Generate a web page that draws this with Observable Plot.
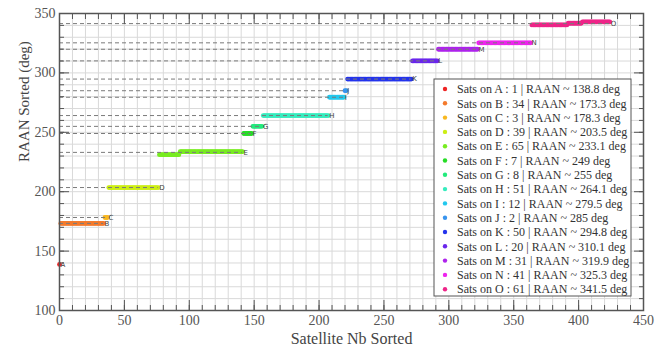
<!DOCTYPE html>
<html><head><meta charset="utf-8">
<script src="https://cdn.jsdelivr.net/npm/d3@7"></script>
<script src="https://cdn.jsdelivr.net/npm/@observablehq/plot@0.6"></script>
<style>body{margin:0;background:#fff}</style>
</head><body><div id="chart"></div>
<script>
// Planes (clusters) of the constellation
const letters = ["A","B","C","D","E","F","G","H","I","J","K","L","M","N","O"];
const counts  = [1, 34, 3, 39, 65, 7, 8, 51, 12, 2, 50, 20, 31, 41, 61];
const raanMean = [138.8, 173.3, 178.3, 203.5, 233.1, 249, 255, 264.1, 279.5, 285, 294.8, 310.1, 319.9, 325.3, 341.5];
const colors = ["#ee2424","#f47a2c","#f8b820","#ccee14","#78ec20","#26dc26","#22ea7c","#36ecbe",
                "#22c8ee","#3894ee","#2434ec","#6a26ec","#ae24ec","#ee24ee","#ee2488"];
// Runs of sorted per-satellite RAAN: [number of sats, RAAN]
const runsE = [[16, 231.2], [49, 233.7]];
const runsO = [[28, 340.4], [11, 341.8], [22, 342.9]];
const xMajor = [0, 50, 100, 150, 200, 250, 300, 350, 400, 450];
const yMajor = [100, 150, 200, 250, 300, 350];
const xMinor = d3.range(0, 451, 10);
const yMinor = d3.range(100, 351, 10);

const runsByPlane = {E: runsE, O: runsO};
const sats = [];
const planes = [];
let idx = 0;
letters.forEach((L, k) => {
  const runs = runsByPlane[L] || [[counts[k], raanMean[k]]];
  const first = idx;
  runs.forEach(([n, v]) => { for (let j = 0; j < n; j++) sats.push({i: idx++, v, color: colors[k]}); });
  planes.push({letter: L, first, last: idx - 1, raan: raanMean[k], color: colors[k], count: counts[k]});
});

const font = "'Liberation Serif', serif";
const axisCol = "#555";
const noText = () => "";
const plot = Plot.plot({
  width: 666, height: 354,
  marginLeft: 59, marginRight: 23, marginTop: 13, marginBottom: 44,
  x: {domain: [0, 450]},
  y: {domain: [100, 350]},
  color: {type: "identity"},
  style: {fontFamily: font, background: "#fff", fontSize: "14px"},
  marks: [
    Plot.gridX(xMinor, {stroke: "#d9d9d9", strokeOpacity: 1}),
    Plot.gridY(yMinor, {stroke: "#d9d9d9", strokeOpacity: 1}),
    Plot.dot(sats, {x: "i", y: "v", r: 2.4, fill: "color", stroke: null}),
    Plot.ruleY(planes, {x1: 0, x2: "last", y: "raan", stroke: "#7a7a7a", strokeWidth: 1, strokeDasharray: "4,3"}),
    Plot.text(planes, {x: "last", y: "raan", text: "letter", dx: 1, textAnchor: "start", fontSize: 7, fill: "#444", fontFamily: "'DejaVu Sans', sans-serif"}),
    Plot.frame({stroke: axisCol, strokeWidth: 1.5}),
    Plot.axisX(xMinor, {anchor: "bottom", tickSize: -5, tickFormat: noText, label: null, stroke: axisCol}),
    Plot.axisX(xMajor, {anchor: "bottom", tickSize: -10, tickFormat: noText, label: null, stroke: axisCol}),
    Plot.axisX(xMinor, {anchor: "top", tickSize: -5, tickFormat: noText, label: null, stroke: axisCol}),
    Plot.axisX(xMajor, {anchor: "top", tickSize: -10, tickFormat: noText, label: null, stroke: axisCol}),
    Plot.axisY(yMinor, {anchor: "left", tickSize: -5, tickFormat: noText, label: null, stroke: axisCol}),
    Plot.axisY(yMajor, {anchor: "left", tickSize: -10, tickFormat: noText, label: null, stroke: axisCol}),
    Plot.axisY(yMinor, {anchor: "right", tickSize: -5, tickFormat: noText, label: null, stroke: axisCol}),
    Plot.axisY(yMajor, {anchor: "right", tickSize: -10, tickFormat: noText, label: null, stroke: axisCol}),
    Plot.axisX(xMajor, {anchor: "bottom", tickSize: 0, tickPadding: 5, label: null, fill: axisCol, fontSize: 14}),
    Plot.axisY(yMajor, {anchor: "left", tickSize: 0, tickPadding: 4, label: null, fill: axisCol, fontSize: 14}),
    Plot.text(["Satellite Nb Sorted"], {frameAnchor: "bottom", dy: 33, text: d => d, fontSize: 16, fill: "#444"}),
    Plot.text(["RAAN Sorted (deg)"], {frameAnchor: "left", dx: -35, rotate: -90, text: d => d, fontSize: 15, fill: "#444"})
  ]
});

// Legend box
const svg = d3.select(plot);
const lg = svg.append("g").attr("font-family", font).attr("font-size", 12).attr("text-anchor", "start");
lg.append("rect").attr("x", 434).attr("y", 79).attr("width", 197).attr("height", 217)
  .attr("fill", "#fff").attr("stroke", "#555").attr("stroke-width", 1);
planes.forEach((p, k) => {
  const y = 89 + k * 14.3;
  lg.append("circle").attr("cx", 445).attr("cy", y).attr("r", 2.2).attr("fill", p.color);
  lg.append("text").attr("x", 457).attr("y", y).attr("dy", "0.35em").attr("fill", "#333")
    .text(`Sats on ${p.letter} : ${p.count} | RAAN ~ ${p.raan} deg`);
});
document.getElementById("chart").appendChild(plot);
</script>
</body></html>
